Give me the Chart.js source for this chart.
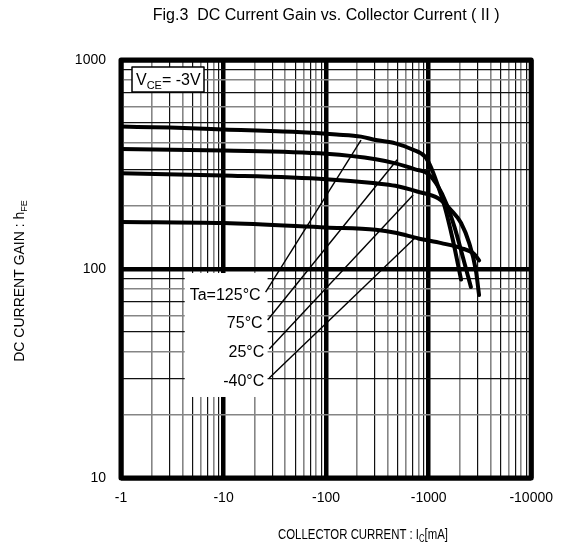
<!DOCTYPE html>
<html>
<head>
<meta charset="utf-8">
<script src="https://cdn.jsdelivr.net/npm/chart.js@4/dist/chart.umd.min.js"></script>
<style>
  html, body { margin: 0; padding: 0; background: #fff; }
</style>
</head>
<body>
<canvas id="chart" width="565" height="551"></canvas>
<script>
//-------------
//- DATA : |Ic| in mA (axis is shown negative), hFE
//-------------
var ic_125 = [1, 3, 10, 52, 126, 219, 305, 474, 686, 921, 1028, 1192, 1432, 1720, 2070];
var hfe_125 = [480, 475, 465, 452, 440, 430, 414, 399, 374, 345, 315, 262, 199, 138, 89];

var ic_75 = [1, 10, 100, 305, 474, 738, 991, 1236, 1486, 1785, 2145, 2582];
var hfe_75 = [375, 369, 356, 335, 320, 300, 285, 248, 206, 159, 115, 82];

var ic_25 = [1, 10, 100, 305, 474, 794, 1236, 1660, 2070, 2486, 2883, 3101];
var hfe_25 = [287, 280, 269, 257, 250, 234, 218, 191, 166, 133, 99, 75];

var ic_m40 = [1, 10, 100, 305, 474, 794, 1331, 2070, 2778, 3101];
var hfe_m40 = [168, 166, 158, 154, 149, 140, 133, 126, 118, 110];

// leader lines from the temperature labels to each curve: [start, end]
var leaderLabels = ["Ta=125\u00b0C", "75\u00b0C", "25\u00b0C", "-40\u00b0C"];
var leaderIc = [[25.7, 219], [26.9, 493], [27.9, 706], [27.9, 738]];
var leaderHfe = [[77.6, 414], [57.0, 333], [41.4, 226], [30.1, 141]];

var xDecades = [1, 10, 100, 1000, 10000];
var xTickLabels = ["-1", "-10", "-100", "-1000", "-10000"];
var yDecades = [10, 100, 1000];
var yTickLabels = ["10", "100", "1000"];

var FONT = "'Liberation Sans', Arial, sans-serif";

function toPoints(xs, ys) {
    var pts = [];
    for (var i = 0; i < xs.length; i++) {
        pts.push({ x: xs[i], y: ys[i] });
    }
    return pts;
}

// grid ticks 1..9 per decade
function logGridTicks(decades) {
    var t = [];
    for (var d = 0; d < decades.length - 1; d++) {
        for (var m = 1; m <= 9; m++) {
            t.push({ value: m * decades[d] });
        }
    }
    t.push({ value: decades[decades.length - 1] });
    return t;
}

function mantissa(v) {
    var p = Math.pow(10, Math.floor(Math.log10(v) + 1e-9));
    return Math.round(v / p);
}

function gridColor(ctx) {
    if (!ctx.tick) return "#000";
    var m = mantissa(ctx.tick.value);
    if (m == 1) return "#000";
    return (m % 2 == 0) ? "#858585" : "#111";
}

function gridWidth(ctx) {
    if (!ctx.tick) return 1;
    var m = mantissa(ctx.tick.value);
    if (m == 1) return 4.5;
    return (m % 2 == 0) ? 1.6 : 1.2;
}

var datasets = [];
var curveX = [ic_125, ic_75, ic_25, ic_m40];
var curveY = [hfe_125, hfe_75, hfe_25, hfe_m40];
for (var i = 0; i < leaderIc.length; i++) {
    datasets.push({
        data: toPoints(leaderIc[i], leaderHfe[i]),
        borderColor: "#000",
        borderWidth: 1.4,
        pointRadius: 0,
        showLine: true,
        fill: false
    });
}
for (var i = 0; i < curveX.length; i++) {
    datasets.push({
        data: toPoints(curveX[i], curveY[i]),
        borderColor: "#000",
        borderWidth: 4,
        pointRadius: 0,
        showLine: true,
        fill: false,
        borderCapStyle: "round",
        cubicInterpolationMode: "monotone"
    });
}

// white label panel + temperature labels, VCE box, frame and titles
var annotations = {
    id: "annotations",
    beforeDatasetsDraw: function (chart) {
        var ctx = chart.ctx;
        var xs = chart.scales.x, ys = chart.scales.y;
        ctx.save();
        ctx.font = "16px " + FONT;
        var starts = [];
        var minLeft = 1e9;
        for (var i = 0; i < leaderLabels.length; i++) {
            var px = xs.getPixelForValue(leaderIc[i][0]);
            var py = ys.getPixelForValue(leaderHfe[i][0]);
            starts.push([px, py]);
            minLeft = Math.min(minLeft, px - 5 - ctx.measureText(leaderLabels[i]).width);
        }
        var top = starts[0][1] - 19;
        var bottom = starts[starts.length - 1][1] + 19;
        ctx.fillStyle = "#fff";
        ctx.fillRect(minLeft - 5, top, starts[0][0] + 2 - (minLeft - 5), bottom - top);
        ctx.fillStyle = "#000";
        ctx.textAlign = "right";
        ctx.textBaseline = "middle";
        for (var i = 0; i < leaderLabels.length; i++) {
            ctx.fillText(leaderLabels[i], starts[i][0] - 5, starts[i][1] + 4);
        }
        ctx.restore();
    },
    afterDatasetsDraw: function (chart) {
        var ctx = chart.ctx;
        var a = chart.chartArea;
        ctx.save();

        // frame
        ctx.strokeStyle = "#000";
        ctx.lineWidth = 5;
        ctx.lineJoin = "round";
        ctx.strokeRect(a.left, a.top, a.right - a.left, a.bottom - a.top);

        // VCE box
        var bx = a.left + 11, by = a.top + 7;
        ctx.fillStyle = "#fff";
        ctx.fillRect(bx, by, 72, 25);
        ctx.lineWidth = 1.5;
        ctx.strokeRect(bx, by, 72, 25);
        ctx.fillStyle = "#000";
        ctx.textBaseline = "alphabetic";
        ctx.textAlign = "left";
        ctx.font = "16px " + FONT;
        ctx.fillText("V", bx + 4, by + 18);
        var w = ctx.measureText("V").width;
        ctx.font = "11px " + FONT;
        ctx.fillText("CE", bx + 4 + w, by + 22);
        var w2 = ctx.measureText("CE").width;
        ctx.font = "16px " + FONT;
        ctx.fillText("= -3V", bx + 4 + w + w2, by + 18);

        // title
        ctx.font = "16px " + FONT;
        ctx.textAlign = "center";
        ctx.fillText("Fig.3  DC Current Gain vs. Collector Current ( II )", (a.left + a.right) / 2, 20);

        // x axis title
        ctx.textAlign = "left";
        ctx.save();
        ctx.translate(278, 539);
        ctx.scale(0.76, 1);
        ctx.font = "15px " + FONT;
        var t1 = "COLLECTOR CURRENT : I";
        ctx.fillText(t1, 0, 0);
        var tw = ctx.measureText(t1).width;
        ctx.font = "10px " + FONT;
        ctx.fillText("C", tw, 3);
        var tw2 = ctx.measureText("C").width;
        ctx.font = "15px " + FONT;
        ctx.fillText("[mA]", tw + tw2, 0);
        ctx.restore();

        // y axis title
        ctx.save();
        ctx.font = "14px " + FONT;
        var y1 = "DC CURRENT GAIN : h";
        var yw = ctx.measureText(y1).width;
        ctx.font = "9px " + FONT;
        var yw2 = ctx.measureText("FE").width;
        ctx.translate(24, 281 + (yw + yw2) / 2);
        ctx.rotate(-Math.PI / 2);
        ctx.font = "14px " + FONT;
        ctx.fillText(y1, 0, 0);
        ctx.font = "9px " + FONT;
        ctx.fillText("FE", yw, 3);
        ctx.restore();

        ctx.restore();
    }
};

var chart = new Chart(document.getElementById("chart"), {
    type: "scatter",
    data: { datasets: datasets },
    options: {
        responsive: false,
        animation: false,
        devicePixelRatio: 1,
        layout: { padding: { left: 0, top: 60, right: 27, bottom: 0 } },
        plugins: {
            legend: { display: false },
            tooltip: { enabled: false },
            title: { display: false }
        },
        scales: {
            x: {
                type: "logarithmic",
                min: 1,
                max: 10000,
                border: { display: false },
                afterBuildTicks: function (scale) { scale.ticks = logGridTicks(xDecades); },
                afterFit: function (scale) { scale.height = 73; },
                grid: { color: gridColor, lineWidth: gridWidth, drawTicks: false },
                ticks: {
                    autoSkip: false,
                    maxRotation: 0,
                    padding: 12,
                    color: "#000",
                    font: { family: FONT, size: 14 },
                    callback: function (value) {
                        var k = xDecades.indexOf(value);
                        return k >= 0 ? xTickLabels[k] : "";
                    }
                }
            },
            y: {
                type: "logarithmic",
                min: 10,
                max: 1000,
                border: { display: false },
                afterBuildTicks: function (scale) { scale.ticks = logGridTicks(yDecades); },
                afterFit: function (scale) { scale.width = 121; },
                grid: { color: gridColor, lineWidth: gridWidth, drawTicks: false },
                ticks: {
                    autoSkip: false,
                    padding: 15,
                    color: "#000",
                    font: { family: FONT, size: 14 },
                    callback: function (value) {
                        var k = yDecades.indexOf(value);
                        return k >= 0 ? yTickLabels[k] : "";
                    }
                }
            }
        }
    },
    plugins: [annotations]
});
</script>
</body>
</html>
